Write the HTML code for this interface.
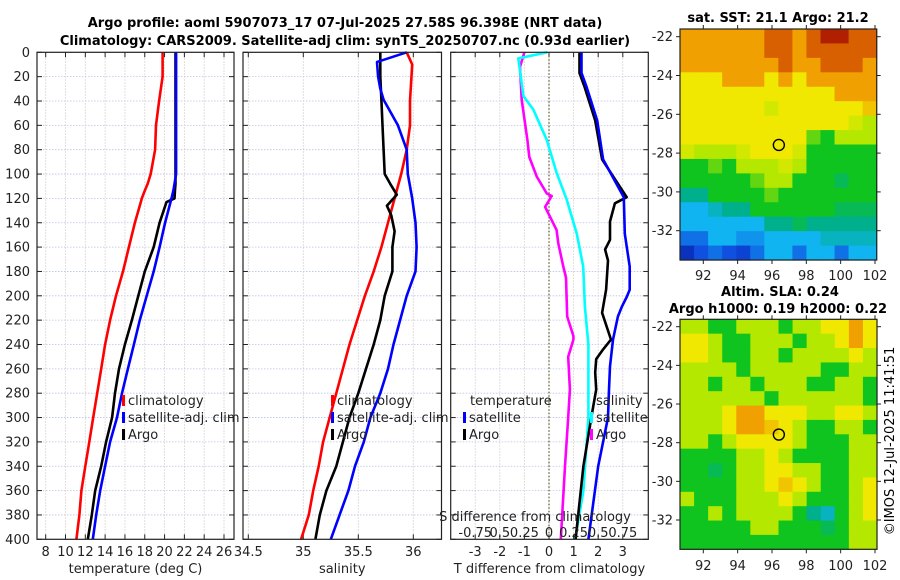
<!DOCTYPE html>
<html><head><meta charset="utf-8">
<style>
html,body{margin:0;padding:0;background:#fff;}
svg{display:block;font-family:"DejaVu Sans","Liberation Sans",sans-serif;}
</style></head>
<body>
<svg id="fig" width="900" height="580" viewBox="0 0 900 580" xmlns="http://www.w3.org/2000/svg">
<text x="345" y="27" font-size="13" font-weight="bold" text-anchor="middle">Argo profile: aoml 5907073_17 07-Jul-2025 27.58S 96.398E (NRT data)</text>
<text x="345" y="45" font-size="13" font-weight="bold" text-anchor="middle">Climatology: CARS2009. Satellite-adj clim: synTS_20250707.nc (0.93d earlier)</text>
<text x="778" y="22" font-size="13" font-weight="bold" text-anchor="middle">sat. SST: 21.1 Argo: 21.2</text>
<text x="780" y="296" font-size="13" font-weight="bold" text-anchor="middle">Altim. SLA: 0.24</text>
<text x="778" y="313" font-size="13" font-weight="bold" text-anchor="middle">Argo h1000: 0.19 h2000: 0.22</text>
<text transform="translate(894,441) rotate(-90)" font-size="13" text-anchor="middle">©IMOS 12-Jul-2025 11:41:51</text>
<g id="layer"></g>
</svg>
<script>
// ---------- data ----------
const depthTicks = [0,20,40,60,80,100,120,140,160,180,200,220,240,260,280,300,320,340,360,380,400];
const tempTicks = [8,10,12,14,16,18,20,22,24,26];
const salTicks = [34.5,35,35.5,36];
const salTickLabels = ["34.5","35","35.5","36"];
const tdiffTicks = [-3,-2,-1,0,1,2,3];
const sdiffTicks = [-0.75,-0.5,-0.25,0,0.25,0.5,0.75];
const sdiffTickLabels = ["-0.75","0.5","0.25","0","0.25","0.5","0.75"];

const tempDepth = [0,20,40,60,80,100,108,113,120,123,140,160,180,200,220,240,260,280,300,320,340,360,380,400];
const tempClim = [19.8,19.8,19.45,19.14,19.04,18.6,18.3,18.03,17.7,17.6,17.0,16.4,15.8,15.1,14.5,14.0,13.6,13.2,12.8,12.4,12.0,11.6,11.4,11.1];
const tempSat = [21.16,21.16,21.16,21.16,21.16,21.16,21.0,20.9,20.7,20.6,20.05,19.5,18.9,18.2,17.5,16.9,16.3,15.7,15.2,14.5,14.0,13.5,13.1,12.75];
const tempArgo = [21.1,21.1,21.1,21.1,21.1,21.1,21.1,21.05,21.0,20.2,19.5,18.9,18.0,17.35,16.7,16.0,15.4,15.0,14.7,14.1,13.6,13.0,12.65,12.25];

const salClimDepth = [0,10,40,60,80,100,120,140,160,180,200,220,240,260,280,300,320,340,360,380,400];
const salClim = [35.94,35.99,35.97,35.97,35.94,35.89,35.83,35.77,35.71,35.64,35.56,35.49,35.42,35.36,35.30,35.24,35.18,35.14,35.09,35.05,34.98];
const salSatDepth = [0,8,20,30,39,60,75,80,100,120,140,160,180,200,220,240,260,280,300,320,340,360,380,400];
const salSat = [35.94,35.67,35.68,35.70,35.73,35.86,35.92,35.94,35.95,35.99,36.02,36.03,36.02,35.94,35.88,35.82,35.77,35.70,35.61,35.55,35.47,35.41,35.33,35.25];
const salArgoDepth = [0,20,39,60,80,100,108,117,126,134,147,160,180,200,220,240,260,280,300,320,340,360,380,400];
const salArgo = [35.70,35.70,35.71,35.72,35.73,35.74,35.79,35.85,35.76,35.80,35.83,35.81,35.81,35.74,35.70,35.64,35.57,35.50,35.42,35.36,35.30,35.21,35.15,35.11];

const tdArgoDepth = [0,12,39,72,86,102,116,118,127,135,146,157,176,185,217,233,236,250,277,300,340,400];
const tdArgo = [-1.0,-1.18,-1.11,-0.88,-0.8,-0.5,-0.09,0.11,-0.16,0.04,0.31,0.38,0.58,0.69,0.74,0.99,0.99,0.78,0.85,0.78,0.65,0.48];
const tdSatDepth = [0,5,12,36,47,72,99,121,149,176,209,240,277,300,360,400];
const tdSat = [-0.07,-1.25,-1.2,-1.04,-0.64,-0.09,0.31,0.72,1.13,1.39,1.46,1.6,1.6,1.6,1.4,1.06];
const sdSatDepth = [0,17,28,56,88,119,149,176,195,201,209,217,236,258,277,300,340,400];
const sdSat = [0.33,0.33,0.38,0.49,0.55,0.76,0.77,0.82,0.82,0.79,0.74,0.70,0.65,0.62,0.61,0.60,0.50,0.40];
const sdArgoDepth = [0,17,28,56,88,119,124,139,154,162,171,195,214,236,244,252,263,277,300,340,400];
const sdArgo = [0.31,0.31,0.36,0.47,0.54,0.79,0.67,0.62,0.62,0.57,0.60,0.58,0.54,0.63,0.55,0.48,0.47,0.48,0.43,0.35,0.27];

const lonTicks = [92,94,96,98,100,102];
const latTicks = [-22,-24,-26,-28,-30,-32];
const argoLon = 96.4, argoLat = -27.58;
const sstGrid = [
[8,8,8,8,8,8,9,9,8,9,10,10,9,9],
[8,8,8,8,8,8,9,9,8,9,9,9,9,9],
[8,8,8,8,8,8,8,9,8,8,9,9,9,8],
[7,7,7,8,8,8,7,8,7,8,8,8,8,8],
[7,7,7,7,7,7,7,7,7,7,7,8,8,8],
[7,7,7,7,7,7,6.5,7,7,7,7,7,7,7.5],
[7,7,7,7,7,7,7,7,7,7,7,7,6.5,6],
[7,7,7,7,7,7,7,7,7,5.5,5,6,6,6],
[6.5,6,6,6,6.5,7,7,7,6.5,5,5,5,5,5],
[5,5,5.5,5,6,6,6,6.5,6,5,5,5,5,5],
[5,5,5,5,5,5.5,6,6,5,5,5,4.5,5,5],
[4,4,5,5,5,5,5.5,5,5,5,5,5,5,5],
[3,3,3.5,4,4,5,5,5,5,5,5,4.5,4.5,4.5],
[3,3,3,3,3,3,4,4,4.5,4,4,4,4,4],
[2,2,3,3,2.5,2.5,3,3,3,3,3.5,3.5,3.5,3.5],
[0.8,1.5,2,1.5,1.2,2,3,3,2,3,3,2,3,3]
];
const slaGrid = [
[6,6,5,5,6,6,6,5,6,6,7,7,8,7],
[7,7,6,5,5,6,6,6,5,6,6,7,8,7],
[7,7,6,5,5,6,6,5,6,6,6,6,7,6],
[6,6,6,6,5,6,6,6,6,6,5,5,6,6],
[6,6,5,6,6,5,6,6,6,5,5,6,6,5],
[6,6,6,6,6,6,5,6,6,6,6,6,6,5],
[6,6,6,7,8,8,7,7,7,6,6,7,7,6],
[6,6,6,7,8,8,7.5,7,6,5,5,6,6,5],
[6,6,5,6,7,7,7,7,6,5,5,5,6,6],
[5,5,5,5,6,6,7,6,5,5,5,5,6,6],
[5,5,4.5,5,6,6,7,7,6,6,5,5,6,6],
[5,5,5,5,6,6,7,7.5,7,6,5,5,6,7],
[6,5,5,5,6,6,6,7,6,5,5,5,6,7],
[5,5,6,5,6,6,6,6,5,4,3.5,5,6,7],
[5,5,5,5,5,6,6,5,5,5,4.5,5,6,6],
[5,5,5,5,5,5,5,5,5,5,5,5,6,6]
];

// ---------- drawing ----------
const NS = "http://www.w3.org/2000/svg";
const layer = document.getElementById('layer');
function mk(tag, attrs, parent){
  const e = document.createElementNS(NS, tag);
  for (const k in attrs) e.setAttribute(k, attrs[k]);
  (parent||layer).appendChild(e);
  return e;
}
const Y0 = 52.3, Y1 = 539.3;
function yDepth(d){ return Y0 + (d/400)*(Y1-Y0); }
function linScale(d0,d1,p0,p1){ return v => p0 + (v-d0)/(d1-d0)*(p1-p0); }

const panels = [
  {name:'temperature-panel', x0:37, x1:234, xs: linScale(8,26,45.7,224), ticks: tempTicks, labels: tempTicks.map(String), xlabel:'temperature (deg C)', ylabels:true},
  {name:'salinity-panel', x0:243, x1:441.5, xs: linScale(35,36,303.3,413.3), ticks: salTicks, labels: salTickLabels, xlabel:'salinity'},
  {name:'difference-panel', x0:450.7, x1:648.3, xs: linScale(0,3,549,622.8), ticks: tdiffTicks, labels: tdiffTicks.map(String), xlabel:'T difference from climatology'}
];
const sScale = linScale(0,0.75,549,622.8);

panels.forEach((p,pi)=>{
  const g = mk('g',{});
  
  
  depthTicks.forEach(d=>{
    const y = yDepth(d);
    const l = mk('line',{x1:p.x0,x2:p.x1,y1:y,y2:y,stroke:'#b9c3e6','stroke-width':0.8,'stroke-dasharray':'1.5,1.5'},g);
    
    
    mk('line',{x1:p.x0,x2:p.x0+5,y1:y,y2:y,stroke:'#222','stroke-width':1},g);
    mk('line',{x1:p.x1-5,x2:p.x1,y1:y,y2:y,stroke:'#222','stroke-width':1},g);
    if (p.ylabels){
      const t = mk('text',{x:30,y:y+4.5,'font-size':13,'text-anchor':'end',fill:'#222'},g);
      t.textContent = d;
      
      
    }
  });
  p.ticks.forEach((v,i)=>{
    const x = p.xs(v);
    const l = mk('line',{x1:x,x2:x,y1:Y0,y2:Y1,stroke:'#d8c8c8','stroke-width':0.8,'stroke-dasharray':'1.5,1.5'},g);
    
    
    mk('line',{x1:x,x2:x,y1:Y1-5,y2:Y1,stroke:'#222','stroke-width':1},g);
    mk('line',{x1:x,x2:x,y1:Y0,y2:Y0+5,stroke:'#222','stroke-width':1},g);
    const t = mk('text',{x:x,y:556,'font-size':13,'text-anchor':'middle',fill:'#222'},g);
    t.textContent = p.labels[i];
    
    
  });
  const xl = mk('text',{x:(p.x0+p.x1)/2,y:573,'font-size':13,'text-anchor':'middle',fill:'#222'},g);
  xl.textContent = p.xlabel;
  
  
});

const zx = panels[2].xs(0);
const zl = mk('line',{x1:zx,x2:zx,y1:Y0,y2:Y1,stroke:'#5a5a30','stroke-width':1.2,'stroke-dasharray':'1.5,2'});



function series(depths, vals, xs, color, name){
  const pts = depths.map((d,i)=> xs(vals[i]).toFixed(1)+','+yDepth(d).toFixed(1)).join(' ');
  const pl = mk('polyline',{points:pts,fill:'none',stroke:color,'stroke-width':2.6,'stroke-linejoin':'round'});
  
  
}
const P1 = panels[0].xs, P2 = panels[1].xs, P3 = panels[2].xs;
series(tempDepth,tempClim,P1,'#ff0000','temp-climatology-line');
series(tempDepth,tempArgo,P1,'#000000','temp-argo-line');
series(tempDepth,tempSat,P1,'#0000ff','temp-satellite-line');
series(salClimDepth,salClim,P2,'#ff0000','sal-climatology-line');
series(salArgoDepth,salArgo,P2,'#000000','sal-argo-line');
series(salSatDepth,salSat,P2,'#0000ff','sal-satellite-line');
series(tdArgoDepth,tdArgo,P3,'#ff00ff','tdiff-argo-line');
series(tdSatDepth,tdSat,P3,'#00ffff','tdiff-satellite-line');
series(sdArgoDepth,sdArgo,sScale,'#000000','sdiff-argo-line');
series(sdSatDepth,sdSat,sScale,'#0000ff','sdiff-satellite-line');

panels.forEach(p=>{
  const r = mk('rect',{x:p.x0,y:Y0,width:p.x1-p.x0,height:Y1-Y0,fill:'none',stroke:'#222','stroke-width':1.2});
  
  
});

const sdt = mk('text',{x:535,y:521,'font-size':13,'text-anchor':'middle',fill:'#222'});
sdt.textContent = 'S difference from climatology';


sdiffTicks.forEach((v,i)=>{
  const t = mk('text',{x:sScale(v),y:537,'font-size':13,'text-anchor':'middle',fill:'#222'});
  t.textContent = sdiffTickLabels[i];
  
  
});

function legendEntry(x,y,color,label){
  const b = mk('rect',{x:x,y:y-10,width:3,height:11,fill:color});
  
  
  const t = mk('text',{x:x+6,y:y,'font-size':13,fill:'#222'});
  t.textContent = label;
  
  
}
legendEntry(122,405,'#ff0000','climatology');
legendEntry(122,422,'#0000ff','satellite-adj. clim');
legendEntry(122,439,'#000000','Argo');
legendEntry(331,405,'#ff0000','climatology');
legendEntry(331,422,'#0000ff','satellite-adj. clim');
legendEntry(331,439,'#000000','Argo');
const lt1 = mk('text',{x:470,y:405,'font-size':13,fill:'#222'}); lt1.textContent='temperature';


const lt2 = mk('text',{x:596,y:405,'font-size':13,fill:'#222'}); lt2.textContent='salinity';


legendEntry(463,422,'#0000ff','satellite');
legendEntry(463,439,'#000000','Argo');
legendEntry(590,422,'#00ffff','satellite');
legendEntry(590,439,'#ff00ff','Argo');

// ---------- maps ----------
const stops = [[0,[0,16,150]],[0.15,[16,80,225]],[0.3,[16,180,240]],[0.4,[0,175,140]],[0.5,[16,196,32]],[0.6,[180,232,0]],[0.7,[240,232,0]],[0.8,[240,160,0]],[0.9,[216,96,0]],[1,[176,32,0]]];
function cmap(v){
  v = Math.max(0,Math.min(1,v));
  for (let i=1;i<stops.length;i++){
    if (v<=stops[i][0]){
      const a=stops[i-1], b=stops[i], f=(v-a[0])/(b[0]-a[0]);
      const c=a[1].map((c0,k)=>Math.round(c0+(b[1][k]-c0)*f));
      return 'rgb('+c.join(',')+')';
    }
  }
  return 'rgb(176,32,0)';
}
function drawMap(name, grid, x0,x1,y0,y1, lonS, latS, labY){
  const g = mk('g',{});
  
  
  const rows = grid.length, cols = grid[0].length;
  const cw=(x1-x0)/cols, ch=(y1-y0)/rows;
  grid.forEach((row,r)=>row.forEach((v,c)=>{
    const cell = mk('rect',{x:(x0+c*cw).toFixed(2),y:(y0+r*ch).toFixed(2),width:(cw+0.6).toFixed(2),height:(ch+0.6).toFixed(2),fill:cmap(v/10)},g);
    
    
  }));
  const fr = mk('rect',{x:x0,y:y0,width:x1-x0,height:y1-y0,fill:'none',stroke:'#222','stroke-width':1.2},g);
  
  
  latTicks.forEach(v=>{
    const y = latS(v);
    mk('line',{x1:x0-4,x2:x0,y1:y,y2:y,stroke:'#222'},g);
    mk('line',{x1:x1,x2:x1+4,y1:y,y2:y,stroke:'#222'},g);
    const t = mk('text',{x:673,y:y+4.5,'font-size':13,'text-anchor':'end',fill:'#222'},g);
    t.textContent = v;
    
    
  });
  lonTicks.forEach(v=>{
    const x = lonS(v);
    mk('line',{x1:x,x2:x,y1:y1,y2:y1+4,stroke:'#222'},g);
    mk('line',{x1:x,x2:x,y1:y0-4,y2:y0,stroke:'#222'},g);
    const t = mk('text',{x:x,y:labY,'font-size':13,'text-anchor':'middle',fill:'#222'},g);
    t.textContent = v;
    
    
  });
  const m = mk('circle',{cx:lonS(argoLon),cy:latS(argoLat),r:5.5,fill:'none',stroke:'#000','stroke-width':1.4},g);
  
  
}
drawMap('sst-map', sstGrid, 680, 876.7, 29, 260, linScale(92,102,703.3,875), linScale(-22,-32,36.7,230.7), 280);
drawMap('sla-map', slaGrid, 680, 877, 319.3, 549.3, linScale(92,102,703.3,875), linScale(-22,-32,326.7,520), 570);
</script>
</body></html>
